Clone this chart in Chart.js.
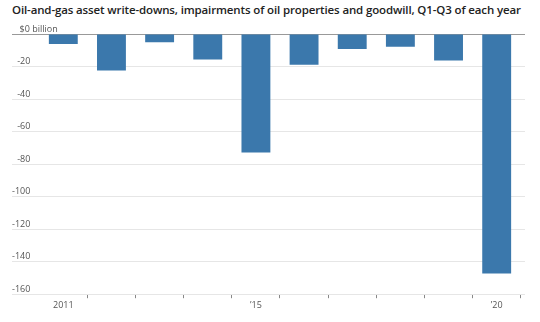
<!DOCTYPE html>
<html>
<head>
<meta charset="utf-8">
<script src="https://cdn.jsdelivr.net/npm/chart.js@4/dist/chart.umd.min.js"></script>
<style>
  html, body { margin: 0; padding: 0; background: #fff; }
  #wrap { position: relative; width: 540px; height: 322px; }
  #title { position: absolute; left: 12px; top: 2px; font-family: "Open Sans", sans-serif; font-weight: 600; font-size: 11.5px; color: #222; white-space: nowrap; letter-spacing: -0.13px; }
  canvas { position: absolute; left: 0; top: 0; }
</style>
</head>
<body>
<div id="wrap">
  <div id="title">Oil-and-gas asset write-downs, impairments of oil properties and goodwill, Q1-Q3 of each year</div>
  <canvas id="c" width="540" height="322"></canvas>
</div>
<script>
const years = [2011, 2012, 2013, 2014, 2015, 2016, 2017, 2018, 2019, 2020];
const writeDowns = [-6.1, -22.4, -5.1, -15.7, -72.9, -18.9, -9.2, -7.9, -16.3, -147.3];
const xLabels = {2011: '2011', 2015: '\u201915', 2020: '\u201920'};
const yTicks = [0, -20, -40, -60, -80, -100, -120, -140, -160];
const yLabels = {0: '\u2007\u2008$0 billion', '-20': '\u2007-20', '-40': '\u2007-40', '-60': '\u2007-60', '-80': '\u2007-80',
                 '-100': '-100', '-120': '-120', '-140': '-140', '-160': '-160'};

const gridColor = (c) => (c.tick && c.tick.value === 0) ? '#999' : '#e6e6e6';
const ctx = document.getElementById('c').getContext('2d');
new Chart(ctx, {
  type: 'bar',
  data: {
    datasets: [{
      data: years.map((y, i) => ({x: y, y: writeDowns[i]})),
      backgroundColor: '#3b78ac',
      borderWidth: 0,
      barPercentage: 0.6,
      categoryPercentage: 1.0
    }]
  },
  options: {
    responsive: false,
    animation: false,
    events: [],
    layout: { padding: { left: 12, right: 15, top: 34, bottom: 9 } },
    plugins: { legend: { display: false }, tooltip: { enabled: false }, title: { display: false } },
    scales: {
      x: {
        type: 'linear',
        offset: false,
        min: 2010.516,
        max: 2020.588,
        afterBuildTicks: (scale) => { scale.ticks = years.map(v => ({value: v})); },
        grid: { drawOnChartArea: false, drawTicks: true, tickLength: 4, color: '#888', tickColor: '#888' },
        border: { display: false },
        ticks: {
          autoSkip: false,
          maxRotation: 0,
          padding: 2,
          color: '#555',
          font: { family: 'Open Sans', size: 9 },
          callback: (v) => xLabels[v] || ''
        }
      },
      y: {
        min: -160,
        max: 0,
        afterBuildTicks: (scale) => { scale.ticks = yTicks.map(v => ({value: v})); },
        afterFit: (scale) => { scale.width = 28; },
        grid: {
          drawTicks: true,
          tickLength: 28,
          color: gridColor,
          tickColor: gridColor,
          lineWidth: 1
        },
        border: { display: false },
        ticks: {
          mirror: true,
          crossAlign: 'near',
          padding: -28,
          labelOffset: -5,
          color: '#555',
          font: { family: 'Open Sans', size: 9 },
          callback: (v) => yLabels[v] || ''
        }
      }
    }
  }
});
</script>
</body>
</html>
